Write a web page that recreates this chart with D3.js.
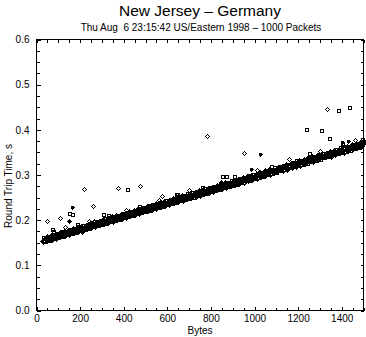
<!DOCTYPE html>
<html><head><meta charset="utf-8">
<script src="https://cdn.jsdelivr.net/npm/d3@7"></script>
<style>
html,body{margin:0;padding:0;background:#fff;}
svg{display:block;font-family:"Liberation Sans",Arial,Helvetica,sans-serif;}
</style></head>
<body>
<script>
const title = "New Jersey \u2013 Germany";
const subtitle = "Thu Aug  6 23:15:42 US/Eastern 1998 \u2013 1000 Packets";
const xLabel = "Bytes";
const yLabel = "Round Trip Time, s";
const xTicks = [0,200,400,600,800,1000,1200,1400];
const yTicks = [0.0,0.1,0.2,0.3,0.4,0.5,0.6];

// main band: packet size (bytes) with lower, middle and upper RTT readings (s)
const bandBytes = [30,40,50,60,70,80,90,100,110,120,130,140,150,160,170,180,190,200,210,220,230,240,250,260,270,280,290,300,310,320,330,340,350,360,370,380,390,400,410,420,430,440,450,460,470,480,490,500,510,520,530,540,550,560,570,580,590,600,610,620,630,640,650,660,670,680,690,700,710,720,730,740,750,760,770,780,790,800,810,820,830,840,850,860,870,880,890,900,910,920,930,940,950,960,970,980,990,1000,1010,1020,1030,1040,1050,1060,1070,1080,1090,1100,1110,1120,1130,1140,1150,1160,1170,1180,1190,1200,1210,1220,1230,1240,1250,1260,1270,1280,1290,1300,1310,1320,1330,1340,1350,1360,1370,1380,1390,1400,1410,1420,1430,1440,1450,1460,1470,1480,1490];
const bandLow = [0.153,0.154,0.156,0.156,0.158,0.161,0.161,0.162,0.165,0.164,0.167,0.169,0.169,0.171,0.174,0.173,0.176,0.178,0.177,0.180,0.182,0.182,0.185,0.186,0.187,0.189,0.191,0.191,0.194,0.194,0.196,0.198,0.198,0.201,0.202,0.203,0.205,0.207,0.207,0.209,0.211,0.211,0.214,0.215,0.216,0.218,0.220,0.220,0.223,0.223,0.225,0.227,0.227,0.230,0.231,0.232,0.234,0.236,0.236,0.238,0.240,0.240,0.243,0.244,0.245,0.247,0.249,0.249,0.252,0.252,0.254,0.256,0.256,0.259,0.260,0.261,0.263,0.265,0.265,0.267,0.269,0.269,0.272,0.273,0.274,0.276,0.278,0.278,0.281,0.281,0.283,0.285,0.285,0.288,0.289,0.290,0.292,0.294,0.294,0.296,0.298,0.298,0.301,0.302,0.303,0.305,0.307,0.307,0.310,0.310,0.312,0.314,0.314,0.317,0.318,0.319,0.321,0.323,0.323,0.325,0.327,0.327,0.330,0.331,0.332,0.334,0.336,0.336,0.339,0.339,0.341,0.343,0.343,0.346,0.347,0.348,0.350,0.352,0.352,0.354,0.356,0.356,0.359,0.360,0.361,0.363,0.365];
const bandMid = [0.157,0.158,0.160,0.161,0.163,0.164,0.166,0.166,0.169,0.170,0.171,0.173,0.173,0.176,0.177,0.178,0.180,0.182,0.182,0.184,0.186,0.186,0.189,0.190,0.191,0.192,0.195,0.195,0.198,0.198,0.200,0.202,0.202,0.205,0.206,0.207,0.209,0.210,0.212,0.213,0.214,0.217,0.217,0.219,0.221,0.221,0.224,0.225,0.226,0.228,0.229,0.231,0.232,0.233,0.235,0.237,0.238,0.239,0.241,0.242,0.244,0.245,0.246,0.248,0.250,0.250,0.253,0.254,0.255,0.257,0.258,0.259,0.261,0.263,0.263,0.266,0.267,0.268,0.270,0.271,0.273,0.274,0.276,0.277,0.278,0.280,0.282,0.282,0.285,0.286,0.287,0.289,0.290,0.291,0.293,0.295,0.296,0.297,0.299,0.300,0.302,0.303,0.304,0.306,0.308,0.309,0.310,0.312,0.314,0.314,0.317,0.318,0.319,0.321,0.322,0.324,0.325,0.326,0.328,0.329,0.331,0.332,0.333,0.335,0.337,0.338,0.339,0.341,0.343,0.343,0.346,0.347,0.348,0.350,0.351,0.353,0.354,0.355,0.357,0.358,0.360,0.361,0.362,0.364,0.366,0.367,0.368];
const bandHigh = [0.160,0.163,0.162,0.166,0.167,0.167,0.170,0.171,0.173,0.174,0.174,0.177,0.178,0.180,0.181,0.181,0.185,0.185,0.187,0.188,0.189,0.192,0.192,0.195,0.195,0.196,0.199,0.200,0.202,0.202,0.204,0.206,0.207,0.209,0.210,0.211,0.214,0.214,0.216,0.217,0.218,0.221,0.221,0.224,0.224,0.225,0.228,0.229,0.231,0.231,0.233,0.235,0.236,0.238,0.239,0.240,0.243,0.243,0.245,0.246,0.247,0.250,0.250,0.253,0.253,0.254,0.257,0.258,0.260,0.260,0.262,0.264,0.265,0.267,0.268,0.269,0.272,0.272,0.274,0.275,0.276,0.279,0.279,0.282,0.282,0.283,0.286,0.287,0.289,0.289,0.291,0.293,0.294,0.296,0.297,0.298,0.301,0.301,0.303,0.304,0.305,0.308,0.308,0.311,0.311,0.312,0.315,0.316,0.318,0.318,0.320,0.322,0.323,0.325,0.326,0.327,0.330,0.330,0.332,0.333,0.334,0.337,0.337,0.340,0.340,0.341,0.344,0.345,0.347,0.347,0.349,0.351,0.352,0.354,0.355,0.356,0.359,0.359,0.361,0.362,0.363,0.366,0.366,0.369,0.369,0.370,0.373];

// scattered points just above the band
const nearBytes = [75,130,185,240,330,410,470,560,640,700,760,845,905,1010,1075,1160,1250,1300,1400,1460];
const nearRtt   = [0.176,0.184,0.192,0.199,0.212,0.222,0.232,0.245,0.259,0.266,0.274,0.285,0.297,0.310,0.320,0.335,0.348,0.353,0.371,0.378];

// outliers
const outBytes = [46,110,147,165,147,165,220,257,307,376,413,477,69,783,950,1023,849,870,982,576,645,1333,1382,1433,1235,1307,1341,1402,1430,1491];
const outRtt   = [0.199,0.205,0.199,0.229,0.216,0.213,0.268,0.231,0.213,0.271,0.269,0.275,0.180,0.386,0.348,0.346,0.298,0.298,0.313,0.253,0.259,0.446,0.445,0.450,0.401,0.399,0.383,0.373,0.376,0.379];
const outMark  = ["d","d","f","p","s","s","d","d","s","d","s","d","s","d","d","p","s","s","p","d","s","d","s","s","s","s","s","p","p","s"];

const W = 366, H = 337;
const svg = d3.select("body").append("svg").attr("width", W).attr("height", H);

const x = d3.scaleLinear().domain([0,1500]).range([36.5,363.5]);
const y = d3.scaleLinear().domain([0,0.6]).range([310.5,39.5]);

// titles
svg.append("text").attr("x",200).attr("y",16).attr("text-anchor","middle")
  .attr("font-size",15.5).text(title);
svg.append("text").attr("x",201).attr("y",31).attr("text-anchor","middle")
  .attr("font-size",10).attr("xml:space","preserve").style("white-space","pre").text(subtitle);

// axes (ticks inward on all sides)
const g = svg.append("g").attr("shape-rendering","crispEdges");
const minorX = d3.range(0,1501,50), minorY = d3.range(0,0.6001,0.025);
function axis(gen, tr){
  const a = g.append("g").attr("transform",tr).call(gen);
  a.select(".domain").remove();
  a.selectAll("line").attr("stroke","#000");
  return a;
}
axis(d3.axisBottom(x).tickValues(minorX).tickSize(-3).tickFormat(""), "translate(0,310.5)");
axis(d3.axisTop(x).tickValues(minorX).tickSize(-3).tickFormat(""), "translate(0,39.5)");
axis(d3.axisLeft(y).tickValues(minorY).tickSize(-3).tickFormat(""), "translate(36.5,0)");
axis(d3.axisRight(y).tickValues(minorY).tickSize(-3).tickFormat(""), "translate(363.5,0)");
const bx = axis(d3.axisBottom(x).tickValues(xTicks).tickSize(-4).tickPadding(4).tickFormat(d3.format("d")), "translate(0,310.5)");
bx.selectAll("text").attr("font-size",10).attr("fill","#000").attr("font-family","Liberation Sans, Arial, sans-serif");
const ly = axis(d3.axisLeft(y).tickValues(yTicks).tickSize(-4).tickPadding(7).tickFormat(d3.format(".1f")), "translate(36.5,0)");
ly.selectAll("text").attr("font-size",10).attr("fill","#000").attr("font-family","Liberation Sans, Arial, sans-serif");

g.append("rect").attr("x",36.5).attr("y",39.5).attr("width",327).attr("height",271)
  .attr("fill","none").attr("stroke","#000");

// axis labels
svg.append("text").attr("x",200).attr("y",334).attr("text-anchor","middle").attr("font-size",10).text(xLabel);
svg.append("text").attr("transform","translate(12,186) rotate(-90)").attr("text-anchor","middle").attr("font-size",10).text(yLabel);

// markers
function markPath(t, small){
  const r = small ? 2 : 2.5, s = small ? 1.5 : 2;
  if (t === "s") return `M${-s},${-s}H${s}V${s}H${-s}Z`;
  if (t === "p") return "M-2,0H2M0,-2V2M-1,-1H1V1H-1Z";
  return `M0,${-r}L${r},0L0,${r}L${-r},0Z`;
}
const pts = svg.append("g").attr("shape-rendering","crispEdges");
const band = [];
bandBytes.forEach((b,i)=>{
  band.push({b:b, r:bandLow[i], t:i%2?"s":"d"});
  band.push({b:b+3, r:bandMid[i], t:i%2?"d":"s"});
  band.push({b:b+6, r:bandHigh[i], t:i%2?"d":"s"});
});
nearBytes.forEach((b,i)=>band.push({b:b, r:nearRtt[i], t:i%2?"d":"s", small:true}));
outBytes.forEach((b,i)=>band.push({b:b, r:outRtt[i], t:outMark[i], small:true}));
pts.selectAll("path").data(band).join("path")
  .attr("transform", d=>`translate(${Math.round(x(d.b))+0.5},${Math.round(y(d.r))+0.5})`)
  .attr("d", d=>markPath(d.t, d.small))
  .attr("fill", d=> d.t==="f" ? "#000" : "none")
  .attr("stroke","#000").attr("stroke-width",1);
</script>
</body></html>
